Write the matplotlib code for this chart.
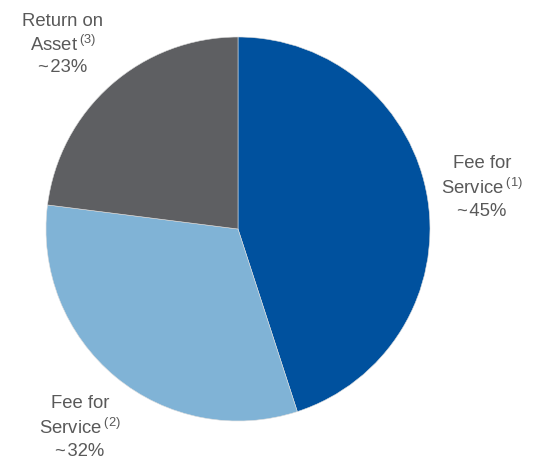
import matplotlib
matplotlib.use("Agg")
import matplotlib.pyplot as plt

plt.rcParams['font.family'] = ['Liberation Sans', 'DejaVu Sans']
plt.rcParams['mathtext.fontset'] = 'custom'
plt.rcParams['mathtext.rm'] = 'Liberation Sans'

categories = ["Fee for Service (1)", "Fee for Service (2)", "Return on Asset (3)"]
values = [45, 32, 23]
colors = ["#00519E", "#80B3D6", "#5E5F62"]
labels = [
    ["Fee for", r"Service$\,^{\mathrm{(1)}}$", "~\u200a45%"],
    ["Fee for", r"Service$\,^{\mathrm{(2)}}$", "~\u200a32%"],
    ["Return on", r"Asset$\,^{\mathrm{(3)}}$", "~\u200a23%"],
]
label_pos = [(482, 164), (80, 404), (63, 21)]

W, H = 539, 458
fig = plt.figure(figsize=(W / 100, H / 100), dpi=100)
ax = fig.add_axes([0, 0, 1, 1])
ax.pie(values, colors=colors, startangle=90, counterclock=False,
       center=(238, H - 229), radius=192,
       wedgeprops=dict(edgecolor='#dddddd', linewidth=0.4))
ax.set_xlim(0, W)
ax.set_ylim(0, H)
ax.set_aspect('equal')
ax.axis('off')

for lines, (x, y) in zip(labels, label_pos):
    for i, t in enumerate(lines):
        ax.text(x, H - (y + i * 23.5), t, ha='center', va='center',
                fontsize=13.3, color='#595959')

fig.savefig("out.png", dpi=100)
